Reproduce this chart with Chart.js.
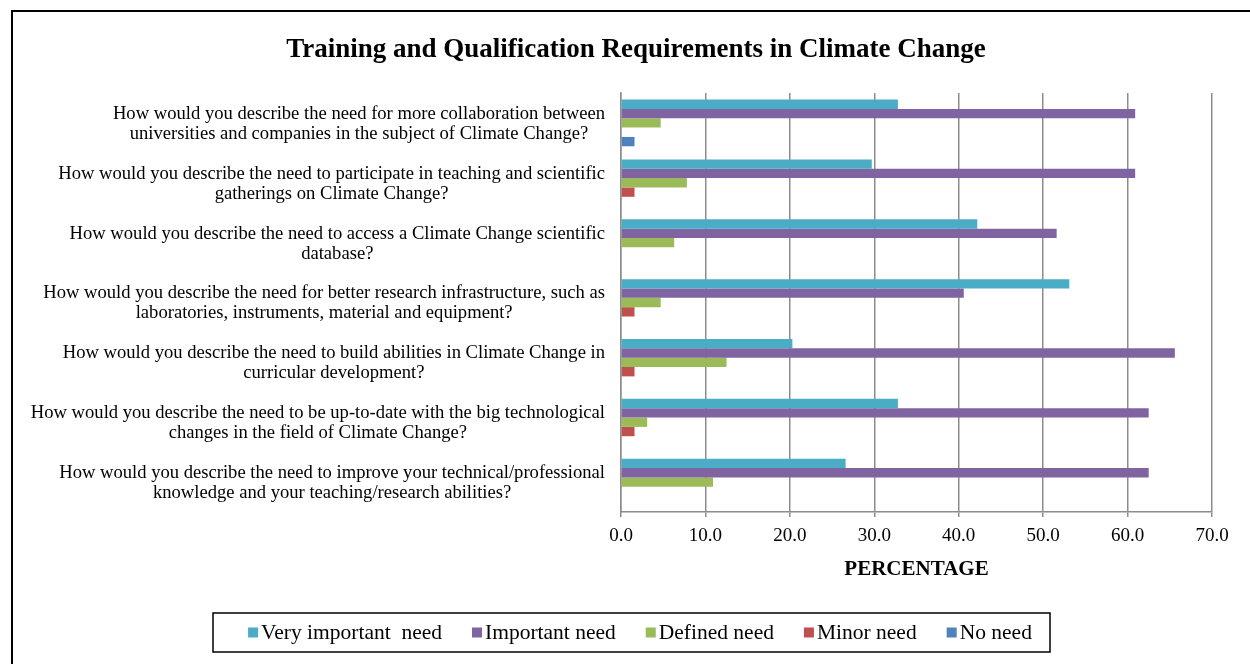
<!DOCTYPE html>
<html>
<head>
<meta charset="utf-8">
<script src="https://cdn.jsdelivr.net/npm/chart.js@4/dist/chart.umd.min.js"></script>
<style>
  html, body { margin: 0; padding: 0; background: #fff; overflow: hidden; }
  #wrap { width: 1250px; height: 664px; position: relative; }
</style>
</head>
<body>
<div id="wrap"><canvas id="c" width="1250" height="664"></canvas></div>
<script>
// Survey questions (each split into the two lines shown beside the bars)
const questions = [
  ["How would you describe the need for more collaboration between", "universities and companies in the subject of Climate Change?"],
  ["How would you describe the need to participate in teaching and scientific", "gatherings on Climate Change?"],
  ["How would you describe the need to access a Climate Change scientific", "database?"],
  ["How would you describe the need for better research infrastructure, such as", "laboratories, instruments, material and equipment?"],
  ["How would you describe the need to build abilities in Climate Change in", "curricular development?"],
  ["How would you describe the need to be up-to-date with the big technological", "changes in the field of Climate Change?"],
  ["How would you describe the need to improve your technical/professional", "knowledge and your teaching/research abilities?"]
];

// Share of respondents (%) per answer
const veryImportant = [32.8, 29.7, 42.2, 53.1, 20.3, 32.8, 26.6];
const important     = [60.9, 60.9, 51.6, 40.6, 65.6, 62.5, 62.5];
const definedNeed   = [4.7, 7.8, 6.3, 4.7, 12.5, 3.1, 10.9];
const minorNeed     = [0, 1.6, 0, 1.6, 1.6, 1.6, 0];
const noNeed        = [1.6, 0, 0, 0, 0, 0, 0];

const seriesNames = ["Very important  need", "Important need", "Defined need", "Minor need", "No need"];
const seriesColors = ["#4BACC6", "#8064A2", "#9BBB59", "#C0504D", "#4F81BD"];

const chartTitle = "Training and Qualification Requirements in Climate Change";
const axisTitle = "PERCENTAGE";
const xMin = 0, xMax = 70, xStep = 10;

const SERIF = "'Liberation Serif', 'Times New Roman', serif";
Chart.defaults.font.family = SERIF;
Chart.defaults.color = "#000";

// Frame, title, wrapped question labels and the boxed legend
const decorations = {
  id: "decorations",
  beforeDraw(chart) {
    const ctx = chart.ctx;
    ctx.save();
    ctx.fillStyle = "#fff";
    ctx.fillRect(0, 0, chart.width, chart.height);
    ctx.restore();
  },
  afterDraw(chart) {
    const ctx = chart.ctx;
    const yScale = chart.scales.y;
    ctx.save();

    // outer frame
    ctx.strokeStyle = "#000";
    ctx.lineWidth = 2;
    ctx.strokeRect(12, 11, 1300, 700);

    // title
    ctx.fillStyle = "#000";
    ctx.font = "bold 27px " + SERIF;
    ctx.textAlign = "center";
    ctx.textBaseline = "alphabetic";
    ctx.fillText(chartTitle, 636, 57);

    // question labels: centred lines, block right-aligned next to the axis
    ctx.font = "18.6px " + SERIF;
    ctx.textBaseline = "middle";
    ctx.textAlign = "center";
    const blockRight = 605;
    const lineGap = 20;
    chart.data.labels.forEach((lines, i) => {
      const yc = yScale.getPixelForValue(i);
      const maxW = Math.max(...lines.map(l => ctx.measureText(l).width));
      const cx = blockRight - maxW / 2;
      lines.forEach((l, j) => {
        ctx.fillText(l, cx, yc + 1 + (j - (lines.length - 1) / 2) * lineGap);
      });
    });

    // legend
    const box = { x: 213, y: 613, w: 837, h: 39 };
    ctx.lineWidth = 1.5;
    ctx.strokeStyle = "#000";
    ctx.strokeRect(box.x, box.y, box.w, box.h);
    ctx.font = "21.5px " + SERIF;
    ctx.textAlign = "left";
    ctx.textBaseline = "middle";
    const sq = 10, sqGap = 3, itemGap = 30;
    const items = chart.data.datasets.map(ds => ({
      label: ds.label, color: ds.backgroundColor, w: sq + sqGap + ctx.measureText(ds.label).width
    }));
    const total = items.reduce((s, it) => s + it.w, 0) + itemGap * (items.length - 1);
    let x = 640 - total / 2;
    const ym = box.y + box.h / 2;
    items.forEach(it => {
      ctx.fillStyle = it.color;
      ctx.fillRect(x, ym - sq / 2, sq, sq);
      ctx.fillStyle = "#000";
      ctx.fillText(it.label, x + sq + sqGap, ym + 1);
      x += it.w + itemGap;
    });
    ctx.restore();
  }
};

const seriesValues = [veryImportant, important, definedNeed, minorNeed, noNeed];

new Chart(document.getElementById("c"), {
  type: "bar",
  data: {
    labels: questions,
    datasets: seriesValues.map((vals, k) => ({
      label: seriesNames[k],
      data: vals,
      backgroundColor: seriesColors[k],
      borderWidth: 0,
      categoryPercentage: 0.78,
      barPercentage: 1.0
    }))
  },
  options: {
    indexAxis: "y",
    responsive: false,
    animation: false,
    layout: { padding: { left: 0, right: 38, top: 93, bottom: 77 } },
    plugins: {
      legend: { display: false },
      title: { display: false },
      tooltip: { enabled: false }
    },
    scales: {
      x: {
        min: xMin,
        max: xMax,
        ticks: {
          stepSize: xStep,
          callback: v => Number(v).toFixed(1),
          font: { size: 19 },
          color: "#000",
          padding: 8
        },
        grid: { color: "#8c8c8c", lineWidth: 1.5, tickLength: 5, tickColor: "#8c8c8c" },
        border: { display: true, color: "#8c8c8c", width: 1.5 },
        title: {
          display: true,
          text: axisTitle,
          font: { size: 21, weight: "bold" },
          color: "#000",
          padding: { top: 0, bottom: 5 }
        },
        afterFit(scale) { scale.height = 75; }
      },
      y: {
        ticks: { display: false },
        grid: { display: false },
        border: { display: true, color: "#8c8c8c", width: 1.5 },
        afterFit(scale) { scale.width = 621; }
      }
    }
  },
  plugins: [decorations]
});
</script>
</body>
</html>
